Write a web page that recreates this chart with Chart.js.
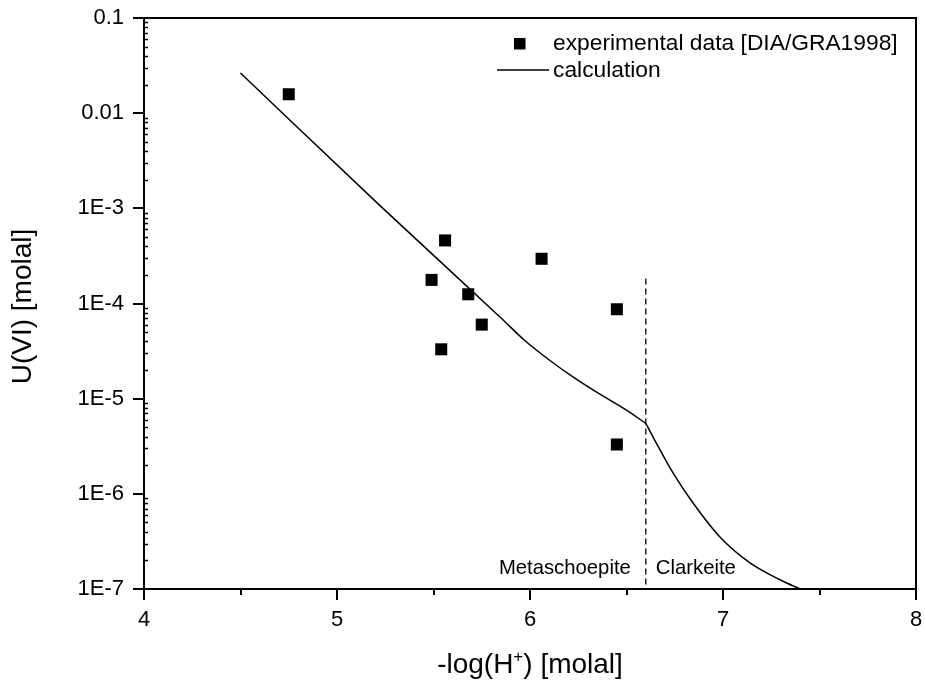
<!DOCTYPE html>
<html>
<head>
<meta charset="utf-8">
<script src="https://cdn.jsdelivr.net/npm/chart.js@4.4.1/dist/chart.umd.min.js"></script>
<style>
  html, body { margin: 0; padding: 0; background: #fff; }
  #chart { display: block; }
</style>
</head>
<body>
<canvas id="chart" width="925" height="688"></canvas>
<script>
// Experimental solubility points
const EXP_PH = [4.75, 5.49, 5.54, 5.56, 5.68, 5.75, 6.06, 6.45, 6.45];
const EXP_U  = [1.58e-2, 1.77e-4, 3.3e-5, 4.6e-4, 1.25e-4, 6.0e-5, 2.95e-4, 8.7e-5, 3.3e-6];

// Calculated solubility, metaschoepite branch
const CALC_META_PH = [4.5, 5.22, 5.85, 5.97, 6.10, 6.23, 6.36, 6.49, 6.6];
const CALC_META_U  = [2.64e-2, 1.08e-3, 7.05e-5, 4.14e-5, 2.55e-5, 1.65e-5, 1.12e-5, 7.8e-6, 5.5e-6];

// Calculated solubility, clarkeite branch
const CALC_CLARK_PH = [6.6, 6.674, 6.741, 6.845, 6.984, 7.14, 7.295, 7.4];
const CALC_CLARK_U  = [5.5e-6, 2.89e-6, 1.66e-6, 8.0e-7, 3.52e-7, 1.88e-7, 1.25e-7, 1.0e-7];

// Metaschoepite / Clarkeite boundary
const BOUNDARY_PH = [6.6, 6.6];
const BOUNDARY_U  = [1.83e-4, 1.0e-7];
const PHASE_LABELS = ['Metaschoepite', 'Clarkeite'];

// Axis ticks
const X_TICKS = [4, 5, 6, 7, 8];
const X_MINOR = [4.5, 5.5, 6.5, 7.5];
const Y_TICKS = [1e-7, 1e-6, 1e-5, 1e-4, 1e-3, 1e-2, 1e-1];
const Y_TICK_LABELS = ['1E-7', '1E-6', '1E-5', '1E-4', '1E-3', '0.01', '0.1'];

const FONT = "'Liberation Sans', Arial, Helvetica, sans-serif";

const toPoints = (xs, ys) => xs.map((x, i) => ({ x: x, y: ys[i] }));

const frameAndText = {
  id: 'frameAndText',
  afterDraw(chart) {
    const ctx = chart.ctx;
    const a = chart.chartArea;
    const xs = chart.scales.x, ys = chart.scales.y;
    ctx.save();
    ctx.strokeStyle = '#000';
    ctx.fillStyle = '#000';

    // plot frame
    ctx.lineWidth = 2;
    ctx.strokeRect(a.left, a.top, a.right - a.left, a.bottom - a.top);

    // minor ticks on the log axis (inside)
    ctx.lineWidth = 1.5;
    for (let d = -7; d < -1; d++) {
      for (let k = 2; k <= 9; k++) {
        const py = Math.round(ys.getPixelForValue(k * Math.pow(10, d))) + 0.5;
        ctx.beginPath();
        ctx.moveTo(a.left, py);
        ctx.lineTo(a.left + 4, py);
        ctx.stroke();
      }
    }
    // minor ticks on the x axis (outside)
    ctx.lineWidth = 2;
    X_MINOR.forEach(v => {
      const px = Math.round(xs.getPixelForValue(v));
      ctx.beginPath();
      ctx.moveTo(px, a.bottom);
      ctx.lineTo(px, a.bottom + 6);
      ctx.stroke();
    });

    // legend
    const ds = chart.data.datasets;
    ctx.font = '22.8px ' + FONT;
    ctx.textBaseline = 'middle';
    ctx.textAlign = 'left';
    ctx.fillRect(514, 38, 11.5, 11.5);
    ctx.fillText(ds[0].label, 553, 44);
    ctx.lineWidth = 1.5;
    ctx.beginPath();
    ctx.moveTo(497, 70);
    ctx.lineTo(549, 70);
    ctx.stroke();
    ctx.fillText(ds[1].label, 553, 71);

    // phase labels beside the boundary
    const bx = xs.getPixelForValue(BOUNDARY_PH[0]);
    ctx.font = '20.3px ' + FONT;
    ctx.textBaseline = 'alphabetic';
    ctx.textAlign = 'right';
    ctx.fillText(PHASE_LABELS[0], bx - 15, a.bottom - 15);
    ctx.textAlign = 'left';
    ctx.fillText(PHASE_LABELS[1], bx + 10, a.bottom - 15);

    // y axis title
    ctx.save();
    ctx.translate(31, (a.top + a.bottom) / 2 + 3);
    ctx.rotate(-Math.PI / 2);
    ctx.font = '28px ' + FONT;
    ctx.textAlign = 'center';
    ctx.fillText('U(VI) [molal]', 0, 0);
    ctx.restore();

    // x axis title with superscript
    const big = '28px ' + FONT, small = '17px ' + FONT;
    const p1 = '-log(H', p2 = '+', p3 = ') [molal]';
    ctx.font = big; const w1 = ctx.measureText(p1).width, w3 = ctx.measureText(p3).width;
    ctx.font = small; const w2 = ctx.measureText(p2).width;
    let x0 = (a.left + a.right) / 2 - (w1 + w2 + w3) / 2;
    const base = 673;
    ctx.textAlign = 'left';
    ctx.font = big; ctx.fillText(p1, x0, base); x0 += w1;
    ctx.font = small; ctx.fillText(p2, x0, base - 11); x0 += w2;
    ctx.font = big; ctx.fillText(p3, x0, base);

    ctx.restore();
  }
};

const lineStyle = {
  type: 'line',
  borderColor: '#000',
  borderWidth: 1.5,
  pointRadius: 0,
  cubicInterpolationMode: 'monotone',
  fill: false,
  order: 1
};

new Chart(document.getElementById('chart'), {
  type: 'scatter',
  data: {
    datasets: [
      {
        label: 'experimental data [DIA/GRA1998]',
        data: toPoints(EXP_PH, EXP_U),
        pointStyle: 'rect',
        pointRadius: 8.5,
        backgroundColor: '#000',
        borderWidth: 0,
        showLine: false,
        order: 0
      },
      Object.assign({ label: 'calculation', data: toPoints(CALC_META_PH, CALC_META_U) }, lineStyle),
      Object.assign({ label: 'calculation (clarkeite)', data: toPoints(CALC_CLARK_PH, CALC_CLARK_U) }, lineStyle),
      {
        label: 'boundary',
        type: 'line',
        data: toPoints(BOUNDARY_PH, BOUNDARY_U),
        borderColor: '#000',
        borderWidth: 1.3,
        borderDash: [6, 4],
        pointRadius: 0,
        fill: false,
        order: 2
      }
    ]
  },
  options: {
    responsive: false,
    animation: false,
    devicePixelRatio: 1,
    layout: { padding: { top: 18, right: 9, left: 0, bottom: 0 } },
    plugins: { legend: { display: false }, tooltip: { enabled: false } },
    scales: {
      x: {
        type: 'linear',
        min: 4,
        max: 8,
        afterBuildTicks: s => { s.ticks = X_TICKS.map(v => ({ value: v })); },
        afterFit: s => { s.height = 99; s.paddingLeft = 0; s.paddingRight = 0; },
        grid: { display: true, drawOnChartArea: false, drawTicks: true, tickLength: 11, color: '#000', lineWidth: 2 },
        border: { display: false },
        ticks: { font: { family: FONT, size: 22 }, color: '#000', padding: 7, maxRotation: 0,
                 callback: v => String(v) }
      },
      y: {
        type: 'logarithmic',
        min: 1e-7,
        max: 0.1,
        afterBuildTicks: s => { s.ticks = Y_TICKS.map(v => ({ value: v })); },
        afterFit: s => { s.width = 144; s.paddingTop = 0; s.paddingBottom = 0; },
        grid: { display: true, drawOnChartArea: false, drawTicks: true, tickLength: 11, color: '#000', lineWidth: 2 },
        border: { display: false },
        ticks: { font: { family: FONT, size: 22 }, color: '#000', padding: 9,
                 callback: (v, i) => Y_TICK_LABELS[i] }
      }
    }
  },
  plugins: [frameAndText]
});
</script>
</body>
</html>
